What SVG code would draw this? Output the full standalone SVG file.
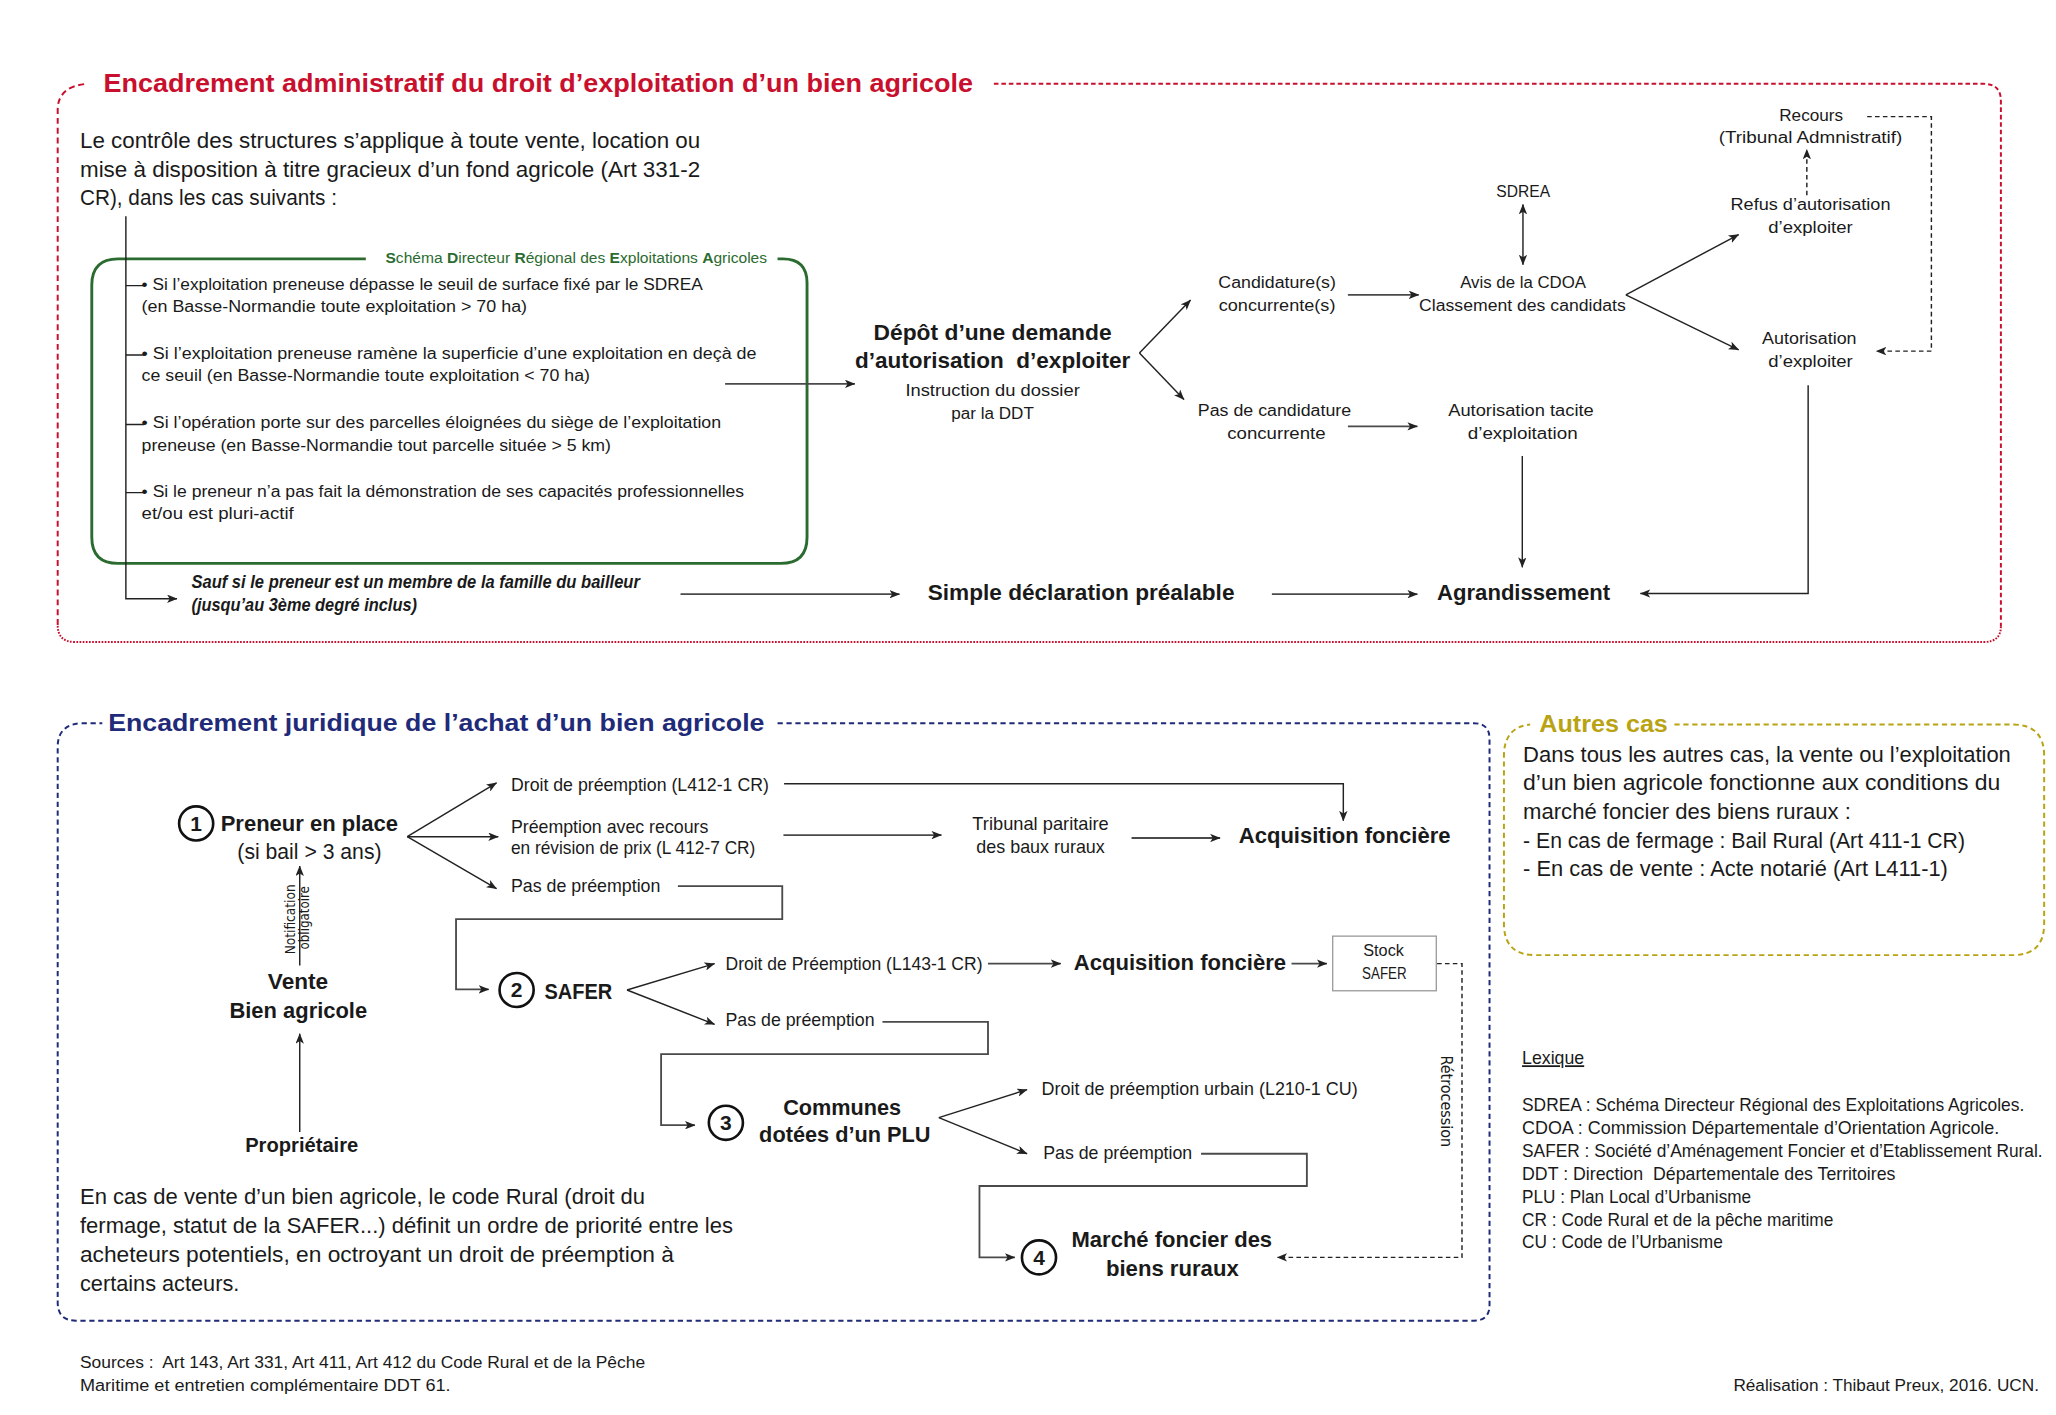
<svg xmlns="http://www.w3.org/2000/svg" width="2056" height="1415" viewBox="0 0 2056 1415">
<defs>
<marker id="ah" viewBox="0 0 10 8" refX="9.5" refY="4" markerWidth="8" markerHeight="6.4" markerUnits="userSpaceOnUse" orient="auto-start-reverse"><path d="M0,0 L10,4 L0,8 L2.5,4 Z" fill="#222"/></marker>
</defs>
<style>
text{font-family:"Liberation Sans",Arial,sans-serif;fill:#1a1a1a;stroke:none}
.b{font-weight:bold}
.m{text-anchor:middle}
.e{text-anchor:end}
.s12{font-size:12.5px}
.s13{font-size:13px}
.s135{font-size:13.5px}
.s16{font-size:16.5px}
.s17{font-size:17px}
.s175{font-size:17.5px}
.cn{fill:none;stroke:#222;stroke-width:1.1}
.cg{fill:none;stroke:#4a4a4a;stroke-width:1.4}
.dsh{stroke-dasharray:3.5 2.5}
.num{fill:none;stroke:#111;stroke-width:2}
</style>
<rect width="2056" height="1415" fill="#fff"/>
<g transform="scale(1.3112 1.3102)">

<!-- frames -->
<g id="frame-admin">
<g fill="none" stroke="#c8102e" stroke-width="1.5">
<path d="M758,64 H1513 Q1526,64 1526,77 V478" stroke-dasharray="3.5 2.2"/>
<path d="M1526,478 Q1526,490 1513,490 H57 Q44,490 44,477" stroke-dasharray="1.3 1.1"/>
<path d="M44,477 V84 Q44,66 66,64" stroke-dasharray="4.5 3"/>
</g>
<text x="79" y="70" class="b" style="font-size:20px;fill:#c8102e" textLength="663" lengthAdjust="spacingAndGlyphs">Encadrement administratif du droit d’exploitation d’un bien agricole</text>
</g>
<g id="frame-juridique">
<path d="M593,552 H1124 Q1136,552 1136,564 V996 Q1136,1008 1124,1008 H58 Q44,1008 44,994 V570 Q44,553 62,552 H78" fill="none" stroke="#1f2a78" stroke-width="1.5" stroke-dasharray="4 2.8"/>
<text x="82.5" y="558" class="b" style="font-size:18.5px;fill:#1f2a78" textLength="500.5" lengthAdjust="spacingAndGlyphs">Encadrement juridique de l’achat d’un bien agricole</text>
</g>
<g id="frame-autres">
<path d="M1277,553 H1535 Q1559,553 1559,577 V705 Q1559,729 1535,729 H1171 Q1147,729 1147,705 V577 Q1147,555 1167,553" fill="none" stroke="#b9a313" stroke-width="1.5" stroke-dasharray="4 2.8"/>
<text x="1174" y="558.4" class="b" style="font-size:18px;fill:#b9a313" textLength="98" lengthAdjust="spacingAndGlyphs">Autres cas</text>
</g>

<!-- SDREA green box -->
<g id="sdrea-box">
<path d="M279,197.6 H90 Q70,197.6 70,217.6 V410 Q70,430 90,430 H595.5 Q615.5,430 615.5,410 V216 Q615.5,197.6 597,197.6 H593" fill="none" stroke="#2b6b2f" stroke-width="2.2"/>
<text x="294" y="201" style="font-size:11.5px;fill:#2b6b2f" textLength="291" lengthAdjust="spacingAndGlyphs"><tspan class="b">S</tspan>chéma <tspan class="b">D</tspan>irecteur <tspan class="b">R</tspan>égional des <tspan class="b">E</tspan>xploitations <tspan class="b">A</tspan>gricoles</text>
</g>

<!-- connectors -->
<g id="connectors">
<path class="cn" d="M96,165 V457 H135" marker-end="url(#ah)"/>
<path class="cn" d="M96,218 H110 M96,271 H110 M96,324 H110 M96,376 H110"/>
<path class="cg" d="M553,293 H652" marker-end="url(#ah)"/>
<path class="cn" d="M869,269.5 L908,229" marker-end="url(#ah)"/>
<path class="cn" d="M869,269.5 L903,305" marker-end="url(#ah)"/>
<path class="cg" d="M1028,225 H1082" marker-end="url(#ah)"/>
<path class="cn" d="M1161.5,156 V202" marker-start="url(#ah)" marker-end="url(#ah)"/>
<path class="cn" d="M1240,225 L1326,179" marker-end="url(#ah)"/>
<path class="cn" d="M1240,225 L1326,267" marker-end="url(#ah)"/>
<path class="cn dsh" d="M1378,149 V114" marker-end="url(#ah)"/>
<path class="cn dsh" d="M1424,89 H1473 V268 H1431" marker-end="url(#ah)"/>
<path class="cg" d="M1028,325.4 H1081" marker-end="url(#ah)"/>
<path class="cn" d="M1161,348 V433" marker-end="url(#ah)"/>
<path class="cn" d="M1379,294 V453 H1251" marker-end="url(#ah)"/>
<path class="cg" d="M519,453.5 H686" marker-end="url(#ah)"/>
<path class="cg" d="M970,453.5 H1081" marker-end="url(#ah)"/>

<path class="cn" d="M228.6,864 V789" marker-end="url(#ah)"/>
<path class="cn" d="M228.6,737 V661" marker-end="url(#ah)"/>
<path class="cn" d="M310.6,638.6 L378.7,597.5" marker-end="url(#ah)"/>
<path class="cn" d="M310.6,638.6 H380" marker-end="url(#ah)"/>
<path class="cn" d="M310.6,638.6 L378.7,678.3" marker-end="url(#ah)"/>
<path class="cn" d="M598,598.2 H1024.5 V626.5" marker-end="url(#ah)"/>
<path class="cg" d="M597.5,637.4 H718" marker-end="url(#ah)"/>
<path class="cg" d="M863,639.6 H930.5" marker-end="url(#ah)"/>
<path class="cg" d="M517,676.3 H596.6 V701.5 H347.8 V755.1 H372.7" marker-end="url(#ah)"/>
<path class="cn" d="M478.2,755.6 L545,735.5" marker-end="url(#ah)"/>
<path class="cn" d="M478.2,755.6 L545,781.8" marker-end="url(#ah)"/>
<path class="cg" d="M753.5,735.5 H809" marker-end="url(#ah)"/>
<path class="cg" d="M985,735.5 H1012" marker-end="url(#ah)"/>
<path class="cn dsh" d="M1096,735.5 H1115 V959.7 H974" stroke="#2a3a7a" marker-end="url(#ah)"/>
<path class="cg" d="M673,779.9 H753.5 V804.6 H504.2 V858.8 H530" marker-end="url(#ah)"/>
<path class="cn" d="M716,853 L783.3,831.6" marker-end="url(#ah)"/>
<path class="cn" d="M716,853 L783.3,880.6" marker-end="url(#ah)"/>
<path class="cg" d="M916,880.6 H996.7 V905.2 H747 V959.7 H774" marker-end="url(#ah)"/>
</g>

<!-- top section nodes -->
<g id="intro">
<text x="61" y="113" class="s175" textLength="473" lengthAdjust="spacingAndGlyphs">Le contrôle des structures s’applique à toute vente, location ou</text>
<text x="61" y="135" class="s175" textLength="473" lengthAdjust="spacingAndGlyphs">mise à disposition à titre gracieux d’un fond agricole (Art 331-2</text>
<text x="61" y="156.5" class="s175" textLength="196" lengthAdjust="spacingAndGlyphs">CR), dans les cas suivants :</text>
</g>
<g id="cas-1">
<text x="108" y="221" class="s12" textLength="428" lengthAdjust="spacingAndGlyphs">• Si l’exploitation preneuse dépasse le seuil de surface fixé par le SDREA</text>
<text x="108" y="238.5" class="s12" textLength="294" lengthAdjust="spacingAndGlyphs">(en Basse-Normandie toute exploitation &gt; 70 ha)</text>
</g>
<g id="cas-2">
<text x="108" y="274" class="s12" textLength="469" lengthAdjust="spacingAndGlyphs">• Si l’exploitation preneuse ramène la superficie d’une exploitation en deçà de</text>
<text x="108" y="291" class="s12" textLength="342" lengthAdjust="spacingAndGlyphs">ce seuil (en Basse-Normandie toute exploitation &lt; 70 ha)</text>
</g>
<g id="cas-3">
<text x="108" y="327" class="s12" textLength="442" lengthAdjust="spacingAndGlyphs">• Si l’opération porte sur des parcelles éloignées du siège de l’exploitation</text>
<text x="108" y="344" class="s12" textLength="358" lengthAdjust="spacingAndGlyphs">preneuse (en Basse-Normandie tout parcelle située &gt; 5 km)</text>
</g>
<g id="cas-4">
<text x="108" y="379" class="s12" textLength="459.5" lengthAdjust="spacingAndGlyphs">• Si le preneur n’a pas fait la démonstration de ses capacités professionnelles</text>
<text x="108" y="396" class="s12" textLength="116" lengthAdjust="spacingAndGlyphs">et/ou est pluri-actif</text>
</g>
<g id="sauf">
<text x="146" y="449" class="b s135" font-style="italic" textLength="342" lengthAdjust="spacingAndGlyphs">Sauf si le preneur est un membre de la famille du bailleur</text>
<text x="146" y="466" class="b s135" font-style="italic" textLength="172" lengthAdjust="spacingAndGlyphs">(jusqu’au 3ème degré inclus)</text>
</g>
<g id="depot">
<text x="757" y="259.3" class="b m s16" textLength="181.5" lengthAdjust="spacingAndGlyphs">Dépôt d’une demande</text>
<text x="757" y="281" class="b m s16" textLength="210" lengthAdjust="spacingAndGlyphs">d’autorisation&#160; d’exploiter</text>
<text x="757" y="302.5" class="m s13" textLength="133" lengthAdjust="spacingAndGlyphs">Instruction du dossier</text>
<text x="757" y="320" class="m s13" textLength="63" lengthAdjust="spacingAndGlyphs">par la DDT</text>
</g>
<g id="candidatures">
<text x="974" y="220" class="m s13" textLength="89.6" lengthAdjust="spacingAndGlyphs">Candidature(s)</text>
<text x="974" y="237.7" class="m s13" textLength="89" lengthAdjust="spacingAndGlyphs">concurrente(s)</text>
</g>
<g id="pas-candidature">
<text x="972" y="317.8" class="m s13" textLength="117" lengthAdjust="spacingAndGlyphs">Pas de candidature</text>
<text x="973.5" y="335" class="m s13" textLength="75" lengthAdjust="spacingAndGlyphs">concurrente</text>
</g>
<g id="sdrea">
<text x="1161.7" y="150" class="m s13" textLength="41" lengthAdjust="spacingAndGlyphs">SDREA</text>
</g>
<g id="avis-cdoa">
<text x="1161.6" y="220" class="m s13" textLength="96" lengthAdjust="spacingAndGlyphs">Avis de la CDOA</text>
<text x="1161.1" y="237.7" class="m s13" textLength="157.6" lengthAdjust="spacingAndGlyphs">Classement des candidats</text>
</g>
<g id="tacite">
<text x="1160" y="317.8" class="m s13" textLength="111" lengthAdjust="spacingAndGlyphs">Autorisation tacite</text>
<text x="1161.3" y="335" class="m s13" textLength="83.8" lengthAdjust="spacingAndGlyphs">d’exploitation</text>
</g>
<g id="recours">
<text x="1381.3" y="92.3" class="m s13" textLength="48.7" lengthAdjust="spacingAndGlyphs">Recours</text>
<text x="1380.8" y="109.3" class="m s13" textLength="140" lengthAdjust="spacingAndGlyphs">(Tribunal Admnistratif)</text>
</g>
<g id="refus">
<text x="1380.8" y="160.2" class="m s13" textLength="122" lengthAdjust="spacingAndGlyphs">Refus d’autorisation</text>
<text x="1380.8" y="177.5" class="m s13" textLength="64.4" lengthAdjust="spacingAndGlyphs">d’exploiter</text>
</g>
<g id="autorisation">
<text x="1379.9" y="262.4" class="m s13" textLength="72" lengthAdjust="spacingAndGlyphs">Autorisation</text>
<text x="1380.8" y="280.2" class="m s13" textLength="64.4" lengthAdjust="spacingAndGlyphs">d’exploiter</text>
</g>
<g id="simple-declaration">
<text x="824.5" y="458" class="b m s16" textLength="234" lengthAdjust="spacingAndGlyphs">Simple déclaration préalable</text>
</g>
<g id="agrandissement">
<text x="1162" y="458" class="b m s16" textLength="132" lengthAdjust="spacingAndGlyphs">Agrandissement</text>
</g>

<!-- bottom section nodes -->
<g id="preneur">
<circle cx="149.6" cy="628.5" r="13" class="num"/>
<text x="149.6" y="634" class="b m" style="font-size:16px">1</text>
<text x="168.3" y="634.3" class="b s175" textLength="135.3" lengthAdjust="spacingAndGlyphs">Preneur en place</text>
<text x="236" y="655.4" class="m s16" textLength="110" lengthAdjust="spacingAndGlyphs">(si bail &gt; 3 ans)</text>
</g>
<g id="notification">
<text transform="translate(225,701.7) rotate(-90)" class="m" style="font-family:'DejaVu Sans',sans-serif;font-size:11px" textLength="53.4" lengthAdjust="spacingAndGlyphs">Notification</text>
<text transform="translate(236,700.5) rotate(-90)" class="m" style="font-family:'DejaVu Sans',sans-serif;font-size:11px" textLength="48.3" lengthAdjust="spacingAndGlyphs">obligatoire</text>
</g>
<g id="vente">
<text x="227.3" y="755" class="b m s175" textLength="46" lengthAdjust="spacingAndGlyphs">Vente</text>
<text x="227.5" y="776.7" class="b m s175" textLength="105" lengthAdjust="spacingAndGlyphs">Bien agricole</text>
</g>
<g id="proprietaire">
<text x="230.1" y="879.6" class="b m" style="font-size:15.5px" textLength="86.2" lengthAdjust="spacingAndGlyphs">Propriétaire</text>
</g>
<g id="droit-preemption">
<text x="389.7" y="603.8" class="s135" textLength="196.7" lengthAdjust="spacingAndGlyphs">Droit de préemption (L412-1 CR)</text>
</g>
<g id="preemption-recours">
<text x="389.7" y="635.6" class="s135" textLength="150.5" lengthAdjust="spacingAndGlyphs">Préemption avec recours</text>
<text x="389.7" y="652.1" class="s135" textLength="186.4" lengthAdjust="spacingAndGlyphs">en révision de prix (L 412-7 CR)</text>
</g>
<g id="pas-preemption-1">
<text x="389.7" y="680.8" class="s135" textLength="114" lengthAdjust="spacingAndGlyphs">Pas de préemption</text>
</g>
<g id="tribunal-paritaire">
<text x="793.6" y="633.6" class="m s135" textLength="104" lengthAdjust="spacingAndGlyphs">Tribunal paritaire</text>
<text x="793.6" y="651" class="m s135" textLength="98" lengthAdjust="spacingAndGlyphs">des baux ruraux</text>
</g>
<g id="acquisition-1">
<text x="944.8" y="643.7" class="b s17" textLength="161.4" lengthAdjust="spacingAndGlyphs">Acquisition foncière</text>
</g>
<g id="safer">
<circle cx="394" cy="755.6" r="13" class="num"/>
<text x="394" y="761.2" class="b m" style="font-size:16px">2</text>
<text x="415.2" y="762.2" class="b s175" textLength="51.7" lengthAdjust="spacingAndGlyphs">SAFER</text>
</g>
<g id="droit-preemption-safer">
<text x="553.3" y="740.4" class="s135" textLength="196" lengthAdjust="spacingAndGlyphs">Droit de Préemption (L143-1 CR)</text>
</g>
<g id="acquisition-2">
<text x="818.9" y="740" class="b s17" textLength="162" lengthAdjust="spacingAndGlyphs">Acquisition foncière</text>
</g>
<g id="stock-safer">
<rect x="1016.4" y="714.5" width="79" height="41.7" fill="#fff" stroke="#9a9a9a" stroke-width="1"/>
<text x="1055.2" y="730" class="m s12" textLength="31" lengthAdjust="spacingAndGlyphs">Stock</text>
<text x="1055.8" y="747.2" class="m s12" textLength="34" lengthAdjust="spacingAndGlyphs">SAFER</text>
</g>
<g id="retrocession">
<text transform="translate(1099,840.5) rotate(90)" class="m" style="font-family:'DejaVu Sans',sans-serif;font-size:12px" textLength="70" lengthAdjust="spacingAndGlyphs">Rétrocession</text>
</g>
<g id="pas-preemption-2">
<text x="553.3" y="783.3" class="s135" textLength="113.7" lengthAdjust="spacingAndGlyphs">Pas de préemption</text>
</g>
<g id="communes">
<circle cx="553.6" cy="857" r="13" class="num"/>
<text x="553.6" y="862.6" class="b m" style="font-size:16px">3</text>
<text x="642.3" y="850.7" class="b m s17" textLength="90" lengthAdjust="spacingAndGlyphs">Communes</text>
<text x="644.3" y="871.9" class="b m s17" textLength="130.7" lengthAdjust="spacingAndGlyphs">dotées d’un PLU</text>
</g>
<g id="droit-urbain">
<text x="794.4" y="835.7" class="s135" textLength="241" lengthAdjust="spacingAndGlyphs">Droit de préemption urbain (L210-1 CU)</text>
</g>
<g id="pas-preemption-3">
<text x="795.6" y="884.7" class="s135" textLength="113.7" lengthAdjust="spacingAndGlyphs">Pas de préemption</text>
</g>
<g id="marche-foncier">
<circle cx="792.4" cy="959.7" r="13" class="num"/>
<text x="792.4" y="965.3" class="b m" style="font-size:16px">4</text>
<text x="893.7" y="951.5" class="b m s17" textLength="153" lengthAdjust="spacingAndGlyphs">Marché foncier des</text>
<text x="894.1" y="973.8" class="b m s17" textLength="101.3" lengthAdjust="spacingAndGlyphs">biens ruraux</text>
</g>
<g id="texte-achat">
<text x="61" y="919" class="s175" textLength="431" lengthAdjust="spacingAndGlyphs">En cas de vente d’un bien agricole, le code Rural (droit du</text>
<text x="61" y="941" class="s175" textLength="498" lengthAdjust="spacingAndGlyphs">fermage, statut de la SAFER...) définit un ordre de priorité entre les</text>
<text x="61" y="963" class="s175" textLength="453" lengthAdjust="spacingAndGlyphs">acheteurs potentiels, en octroyant un droit de préemption à</text>
<text x="61" y="985" class="s175" textLength="121.5" lengthAdjust="spacingAndGlyphs">certains acteurs.</text>
</g>
<g id="autres-cas">
<text x="1161.6" y="581.5" class="s17" textLength="372" lengthAdjust="spacingAndGlyphs">Dans tous les autres cas, la vente ou l’exploitation</text>
<text x="1161.6" y="603.3" class="s17" textLength="364" lengthAdjust="spacingAndGlyphs">d’un bien agricole fonctionne aux conditions du</text>
<text x="1161.6" y="625.1" class="s17" textLength="250" lengthAdjust="spacingAndGlyphs">marché foncier des biens ruraux :</text>
<text x="1161.6" y="646.9" class="s17" textLength="337" lengthAdjust="spacingAndGlyphs">- En cas de fermage : Bail Rural (Art 411-1 CR)</text>
<text x="1161.6" y="668.7" class="s17" textLength="324" lengthAdjust="spacingAndGlyphs">- En cas de vente : Acte notarié (Art L411-1)</text>
</g>
<g id="lexique">
<text x="1160.8" y="812.3" class="s135" text-decoration="underline" textLength="47.4" lengthAdjust="spacingAndGlyphs">Lexique</text>
<text x="1160.8" y="847.7" class="s135" textLength="383" lengthAdjust="spacingAndGlyphs">SDREA : Schéma Directeur Régional des Exploitations Agricoles.</text>
<text x="1160.8" y="865.4" class="s135" textLength="364" lengthAdjust="spacingAndGlyphs">CDOA : Commission Départementale d’Orientation Agricole.</text>
<text x="1160.8" y="883.2" class="s135" textLength="397" lengthAdjust="spacingAndGlyphs">SAFER : Société d’Aménagement Foncier et d’Etablissement Rural.</text>
<text x="1160.8" y="900.3" class="s135" textLength="284.8" lengthAdjust="spacingAndGlyphs">DDT : Direction&#160; Départementale des Territoires</text>
<text x="1160.8" y="918" class="s135" textLength="174.7" lengthAdjust="spacingAndGlyphs">PLU : Plan Local d’Urbanisme</text>
<text x="1160.8" y="935.7" class="s135" textLength="237.4" lengthAdjust="spacingAndGlyphs">CR : Code Rural et de la pêche maritime</text>
<text x="1160.8" y="952.8" class="s135" textLength="153.1" lengthAdjust="spacingAndGlyphs">CU : Code de l’Urbanisme</text>
</g>
<g id="sources">
<text x="61" y="1044.4" class="s13" textLength="431" lengthAdjust="spacingAndGlyphs">Sources :&#160; Art 143, Art 331, Art 411, Art 412 du Code Rural et de la Pêche</text>
<text x="61" y="1061.5" class="s13" textLength="282.7" lengthAdjust="spacingAndGlyphs">Maritime et entretien complémentaire DDT 61.</text>
</g>
<g id="realisation">
<text x="1555" y="1061.5" class="e s13" textLength="233" lengthAdjust="spacingAndGlyphs">Réalisation : Thibaut Preux, 2016. UCN.</text>
</g>
</g>
</svg>
